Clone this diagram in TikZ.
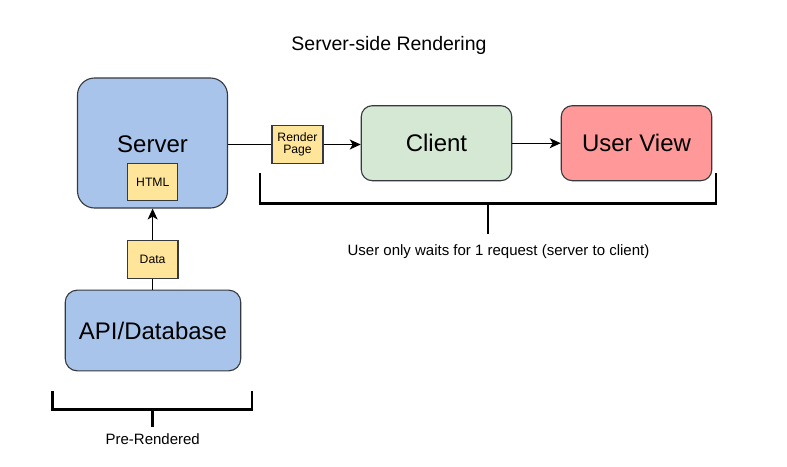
\documentclass[tikz,border=0pt]{standalone}
\usepackage{fontspec}
\setmainfont{Liberation Sans}
\usetikzlibrary{arrows.meta}
\definecolor{bluefill}{HTML}{A9C4EB}
\definecolor{greenfill}{HTML}{D5E8D4}
\definecolor{redfill}{HTML}{FF9999}
\definecolor{yellowfill}{HTML}{FFE599}
\definecolor{edge}{HTML}{36393D}
\tikzset{
  bigbox/.style={draw=edge, line width=1.1pt, inner sep=0pt, align=center, font=\fontsize{24}{28}\selectfont},
  tagbox/.style={draw=edge, line width=1.1pt, fill=yellowfill, inner sep=0pt, align=center, font=\fontsize{12.2}{14}\selectfont},
  conn/.style={draw=black, line width=1pt},
  arr/.style={conn, -{Stealth[length=11pt,width=10pt,inset=3pt]}},
  brace/.style={draw=black, line width=2.5pt},
  plain/.style={inner sep=0pt, font=\fontsize{15}{18}\selectfont}
}
\begin{document}
\begin{tikzpicture}[x=1pt,y=-1pt]
\useasboundingbox (0,0) rectangle (787,466);
% title
\node[inner sep=0pt, font=\fontsize{19.5}{23}\selectfont] (title) at (389,45) {Server-side Rendering};
% boxes
\node[bigbox, fill=bluefill, rounded corners=17pt, minimum width=150pt, minimum height=130pt] (server) at (152.5,143) {};
\node[inner sep=0pt, font=\fontsize{24}{28}\selectfont] (servertext) at (152.5,144) {Server};
\node[tagbox, minimum width=50pt, minimum height=37pt] (html) at (152.8,182) {HTML};
\node[tagbox, minimum width=51pt, minimum height=37.5pt] (render) at (297.5,144.5) {Render\\[-1.5pt]Page};
\node[bigbox, fill=greenfill, rounded corners=11pt, minimum width=150.5pt, minimum height=75pt] (client) at (436.5,143.2) {Client};
\node[bigbox, fill=redfill, rounded corners=11pt, minimum width=150.5pt, minimum height=75pt] (view) at (636.5,143.2) {User View};
\node[tagbox, minimum width=50.7pt, minimum height=37.6pt] (data) at (152.6,259.5) {Data};
\node[bigbox, fill=bluefill, rounded corners=12pt, minimum width=175.5pt, minimum height=80.7pt] (api) at (153,330.5) {API/Database};
% connectors
\draw[conn] (server.east |- render.west) -- (render.west);
\draw[arr] (render.east) -- (render.east -| client.west);
\draw[arr] (client.east) -- (view.west);
\draw[conn] (api.north -| data.south) -- (data.south);
\draw[arr] (data.north) -- (server.south -| data.north);
% brackets
\coordinate (b1l) at (260,173);
\coordinate (b1r) at (716,173);
\coordinate (b1m) at (488,203.3);
\coordinate (b1s) at (488,234);
\draw[brace] (b1l) -- (b1l |- b1m) -- (b1r |- b1m) -- (b1r);
\draw[brace] (b1m) -- (b1s);
\node[plain] (waitlabel) at (498.5,252) {User only waits for 1 request (server to client)};
\coordinate (b2l) at (52.5,391);
\coordinate (b2r) at (252,391);
\coordinate (b2m) at (152.3,409.3);
\coordinate (b2s) at (152.3,426.7);
\draw[brace] (b2l) -- (b2l |- b2m) -- (b2r |- b2m) -- (b2r);
\draw[brace] (b2m) -- (b2s);
\node[plain] (prelabel) at (152.7,439) {Pre-Rendered};
\end{tikzpicture}
\end{document}
